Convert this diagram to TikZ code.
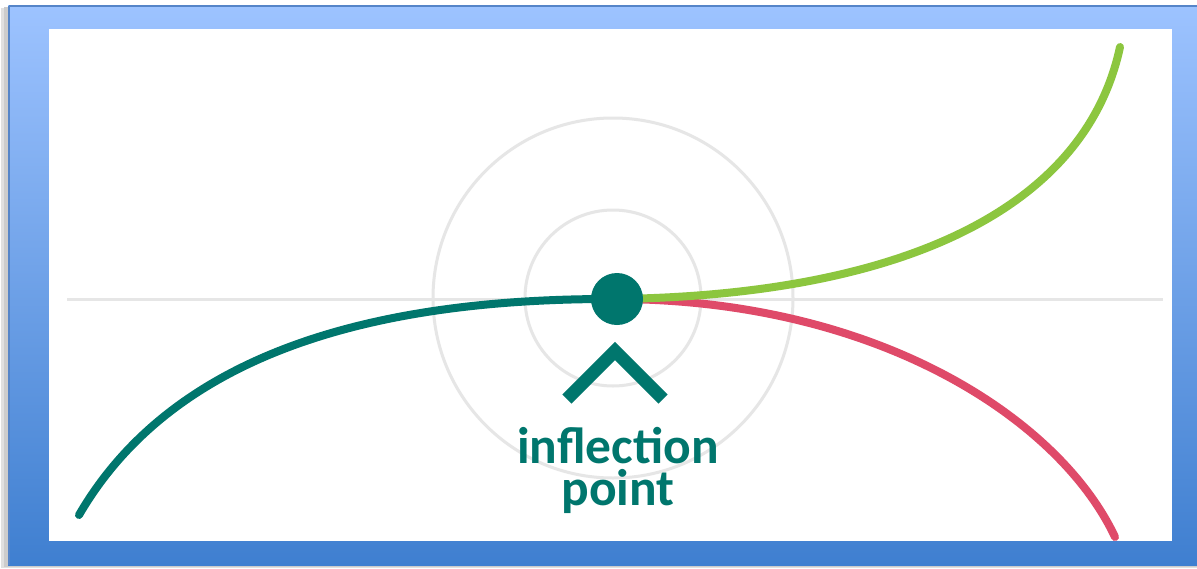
\documentclass[tikz,border=0pt]{standalone}
\usepackage{fontspec}
\setmainfont{Carlito}
\definecolor{frametop}{HTML}{9DC3FF}
\definecolor{framebot}{HTML}{3F7FD0}
\definecolor{frameedge}{HTML}{5585C8}
\definecolor{tealc}{HTML}{00766D}
\definecolor{greenc}{HTML}{8CC63F}
\definecolor{redc}{HTML}{DF4A69}
\definecolor{guide}{HTML}{E6E6E6}
\tikzset{
  curve/.style={line width=8pt, line cap=round},
  guideline/.style={draw=guide, line width=3pt},
  label/.style={text=tealc, font=\bfseries\fontsize{51.5}{42}\selectfont, align=center, anchor=base, inner sep=0pt}
}
\begin{document}
\begin{tikzpicture}[x=1pt,y=-1pt]
\useasboundingbox (0,0) rectangle (1197,568);
% shadow
\fill[black!12] (1,8) rectangle (1197,568);
\fill[black!20] (4,7) rectangle (1197,567);
% frame
\shade[top color=frametop, bottom color=framebot] (8,5) rectangle (1197,565);
\draw[frameedge, line width=1.5pt] (8.75,5.75) -- (1197,5.75);
\draw[frameedge, line width=1.5pt] (8.75,5.75) -- (8.75,565);
% white panel
\fill[white] (49,29) rectangle (1172,541);
% guides
\coordinate (center) at (613,298);
\draw[guideline] (67,299) -- (1163,299);
\draw[guideline] (center) circle[radius=88];
\draw[guideline] (center) circle[radius=180];
% curves
\coordinate (tealstart) at (79,515);
\coordinate (greenend) at (1120,47);
\coordinate (redend) at (1115,537);
\coordinate (ip) at (617,299);
\draw[curve, draw=redc] (ip) .. controls (880,300) and (1060,420) .. (redend);
\draw[curve, draw=greenc] (ip) .. controls (900,295) and (1085,210) .. (greenend);
\draw[curve, draw=tealc] (tealstart) .. controls (175,350) and (380,298) .. (ip);
\node[circle, fill=tealc, minimum size=52pt, inner sep=0pt] (dot) at (ip) {};
% chevron
\coordinate (chl) at (567,399);
\coordinate (chapex) at (615,351);
\coordinate (chr) at (663,399);
\draw[tealc, line width=13pt, miter limit=3] (chl) -- (chapex) -- (chr);
% text
\node[label] (txt) at (618,505) {inflection\\point};
\end{tikzpicture}
\end{document}
